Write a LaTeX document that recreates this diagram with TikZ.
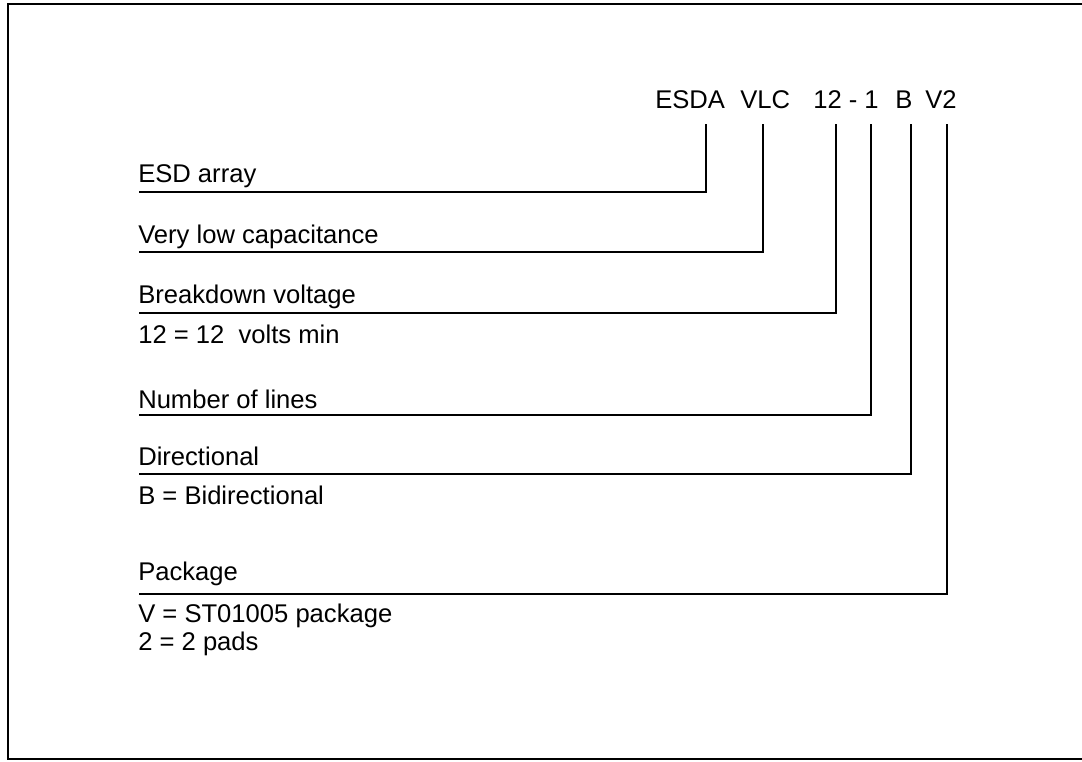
\documentclass[tikz,border=0pt]{standalone}
\usepackage{fontspec}
\setmainfont{Liberation Sans}
\tikzset{
  lbl/.style={anchor=base west,inner sep=0pt,font=\fontsize{19.2}{23}\selectfont},
  lead/.style={line width=1.5pt}
}
\begin{document}
\begin{tikzpicture}[x=0.75pt,y=-0.75pt]
    \useasboundingbox (0,0) rectangle (1082,761);
    %frame
    \draw [line width=2pt] (1090,4) -- (8,4) -- (8,759) -- (1090,759);

    %part number
    \node (esda) at (655,108) [lbl]{ESDA};
    \node (vlc) at (740,108) [lbl]{VLC};
    \node (volt) at (813,108) [lbl]{12 - 1};
    \node (bdir) at (895,108) [lbl]{B};
    \node (vtwo) at (925,108) [lbl]{V2};

    %fields
    \node (esd) at (138,182) [lbl]{ESD array};
    \node (cap) at (138,243) [lbl]{Very low capacitance};
    \node (brk) at (138,303) [lbl]{Breakdown voltage};
    \node (brkval) at (138,343) [lbl]{12 = 12 \ volts min};
    \node (lines) at (138,408) [lbl]{Number of lines};
    \node (dir) at (138,465) [lbl]{Directional};
    \node (dirval) at (138,504) [lbl]{B = Bidirectional};
    \node (pkg) at (138,580) [lbl]{Package};
    \node (pkgv) at (138,622) [lbl]{V = ST01005 package};
    \node (pkgp) at (138,650) [lbl]{2 = 2 pads};

    %leaders
    \coordinate (tesda) at (706,124);
    \coordinate (tvlc) at (763,124);
    \coordinate (tvolt) at (836,124);
    \coordinate (tline) at (871,124);
    \coordinate (tbdir) at (911,124);
    \coordinate (tvtwo) at (947,124);
    \coordinate (lesd) at (139,192);
    \coordinate (lcap) at (139,252);
    \coordinate (lbrk) at (139,313);
    \coordinate (llines) at (139,415);
    \coordinate (ldir) at (139,474);
    \coordinate (lpkg) at (139,594);

    \draw [lead] (lesd) -| (tesda);
    \draw [lead] (lcap) -| (tvlc);
    \draw [lead] (lbrk) -| (tvolt);
    \draw [lead] (llines) -| (tline);
    \draw [lead] (ldir) -| (tbdir);
    \draw [lead] (lpkg) -| (tvtwo);
\end{tikzpicture}
\end{document}
